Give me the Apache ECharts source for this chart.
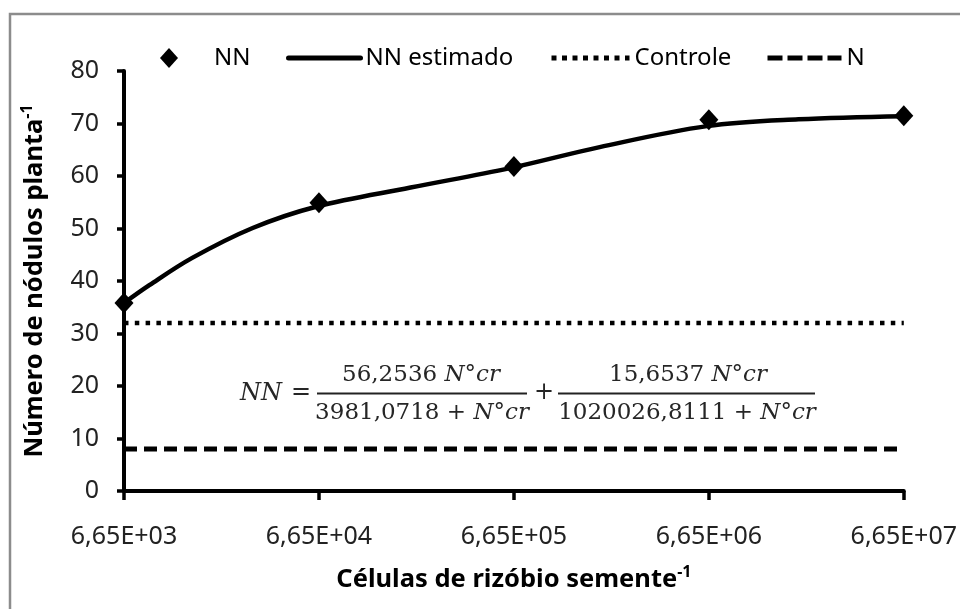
<!DOCTYPE html>
<html>
<head>
<meta charset="utf-8">
<script src="https://cdn.jsdelivr.net/npm/echarts@6/dist/echarts.min.js"></script>
<style>
html,body{margin:0;padding:0;background:#fff;}
#chart{width:960px;height:609px;}
</style>
</head>
<body>
<div id="chart"></div>
<script>
// ---- data ----
const xLabels = ['6,65E+03','6,65E+04','6,65E+05','6,65E+06','6,65E+07'];
const nnX = [0, 1, 2, 3, 4];
const nnY = [35.8, 54.9, 61.8, 70.7, 71.5];
const curveX = [0, 0.13, 0.35, 0.66, 0.99, 1.47, 1.98, 2.44, 2.99, 3.46, 4.0];
const curveY = [35.8, 39.2, 44.4, 50.1, 54.2, 57.8, 61.5, 65.5, 69.5, 70.8, 71.4];
const controleX = [0, 4];
const controleY = [32, 32];
const nX = [0, 4];
const nY = [8, 8];
const yTicks = {min: 0, max: 80, interval: 10};

const zip = (a, b) => a.map((v, i) => [v, b[i]]);

const chart = echarts.init(document.getElementById('chart'), null, {renderer: 'canvas'});
const FONT = 'Noto Sans';
const MATH = 'DejaVu Serif';
const hideSym = {color: 'rgba(0,0,0,0)', borderWidth: 0, opacity: 0};
const mathRich = {
  n: {fontFamily: MATH, fontSize: 23, fill: '#262626'},
  i: {fontFamily: MATH, fontStyle: 'italic', fontSize: 23, fill: '#262626'}
};

const option = {
  backgroundColor: '#fff',
  animation: false,
  grid: {left: 124, right: 55, top: 71, bottom: 118, containLabel: false},
  legend: [
    {data: ['NN'], left: 160, top: 46, padding: 0, itemWidth: 18, itemHeight: 20,
     itemStyle: {color: '#000', opacity: 1},
     textStyle: {fontFamily: FONT, fontSize: 24, color: '#000', padding: [0, 0, 0, 31]}},
    {data: ['NN estimado'], left: 286, top: 46, padding: 0, itemWidth: 72, itemHeight: 19,
     itemStyle: hideSym,
     lineStyle: {color: '#000', width: 5, type: 'solid', cap: 'round', opacity: 1},
     textStyle: {fontFamily: FONT, fontSize: 24, color: '#000'}},
    {data: ['Controle'], left: 549, top: 46, padding: 0, itemWidth: 78, itemHeight: 19,
     itemStyle: hideSym,
     lineStyle: {color: '#000', width: 5, type: [5, 5.5], cap: 'butt', opacity: 1},
     textStyle: {fontFamily: FONT, fontSize: 24, color: '#000'}},
    {data: ['N'], left: 765, top: 46, padding: 0, itemWidth: 74, itemHeight: 19,
     itemStyle: hideSym,
     lineStyle: {color: '#000', width: 5, type: [15, 5], cap: 'butt', opacity: 1},
     textStyle: {fontFamily: FONT, fontSize: 24, color: '#000'}}
  ],
  xAxis: {
    type: 'value', min: 0, max: 4, interval: 1,
    axisLine: {show: true, onZero: false, lineStyle: {color: '#000', width: 4}},
    axisTick: {show: true, length: 9, lineStyle: {color: '#000', width: 3.5}},
    axisLabel: {
      margin: 33, fontFamily: FONT, fontSize: 25, color: '#222',
      formatter: v => xLabels[Math.round(v)]
    },
    splitLine: {show: false},
    name: '{t|Células de rizóbio semente}{s|-1}',
    nameLocation: 'middle', nameGap: 73,
    nameTextStyle: {
      rich: {
        t: {fontFamily: FONT, fontSize: 25.5, fontWeight: 'bold', color: '#000', lineHeight: 32},
        s: {fontFamily: FONT, fontSize: 16, fontWeight: 'bold', color: '#000', lineHeight: 16, verticalAlign: 'top'}
      }
    }
  },
  yAxis: {
    type: 'value', min: yTicks.min, max: yTicks.max, interval: yTicks.interval,
    axisLine: {show: true, lineStyle: {color: '#000', width: 4}},
    axisTick: {show: true, length: 7, lineStyle: {color: '#000', width: 3.5}},
    axisLabel: {margin: 25, fontFamily: FONT, fontSize: 25, color: '#222'},
    splitLine: {show: false},
    name: '{t|Número de nódulos planta}{s|-1}',
    nameLocation: 'middle', nameGap: 73, nameRotate: 90,
    nameTextStyle: {
      rich: {
        t: {fontFamily: FONT, fontSize: 25.5, fontWeight: 'bold', color: '#000', lineHeight: 32},
        s: {fontFamily: FONT, fontSize: 16, fontWeight: 'bold', color: '#000', lineHeight: 16, verticalAlign: 'top'}
      }
    }
  },
  series: [
    {
      name: 'N', type: 'line', data: zip(nX, nY), symbol: 'none', z: 2,
      lineStyle: {color: '#000', width: 5, type: [13, 7], cap: 'butt'},
      itemStyle: {color: '#000'}
    },
    {
      name: 'Controle', type: 'line', data: zip(controleX, controleY), symbol: 'none', z: 2,
      lineStyle: {color: '#000', width: 4.5, type: [4.5, 6.3], cap: 'butt'},
      itemStyle: {color: '#000'}
    },
    {
      name: 'NN estimado', type: 'line', data: zip(curveX, curveY), symbol: 'none', smooth: 0.35, z: 3,
      lineStyle: {color: '#000', width: 4.5},
      itemStyle: {color: '#000'}
    },
    {
      name: 'NN', type: 'scatter', data: zip(nnX, nnY), symbol: 'diamond', symbolSize: [19, 21], z: 4,
      itemStyle: {color: '#000', opacity: 1}
    }
  ],
  graphic: [
    {type: 'rect', silent: true, z: -1,
     shape: {x: 10, y: 14, width: 1000, height: 700},
     style: {fill: 'none', stroke: '#8c8c8c', lineWidth: 2.5}},
    // equation
    {type: 'text', x: 261, y: 394, silent: true,
     style: {text: 'NN', font: 'italic 24px "DejaVu Serif"', fill: '#262626', align: 'center', verticalAlign: 'middle'}},
    {type: 'text', x: 301, y: 393, silent: true,
     style: {text: '=', font: '24px "DejaVu Serif"', fill: '#262626', align: 'center', verticalAlign: 'middle'}},
    {type: 'line', silent: true, shape: {x1: 317, y1: 393.5, x2: 527, y2: 393.5}, style: {stroke: '#222', lineWidth: 1.8}},
    {type: 'text', x: 421, y: 375, silent: true,
     style: {text: '{n|56,2536 }{i|N°cr}', align: 'center', verticalAlign: 'middle', rich: mathRich}},
    {type: 'text', x: 422, y: 413, silent: true,
     style: {text: '{n|3981,0718 + }{i|N°cr}', align: 'center', verticalAlign: 'middle', rich: mathRich}},
    {type: 'text', x: 544, y: 393, silent: true,
     style: {text: '+', font: '24px "DejaVu Serif"', fill: '#262626', align: 'center', verticalAlign: 'middle'}},
    {type: 'line', silent: true, shape: {x1: 558, y1: 393.5, x2: 815, y2: 393.5}, style: {stroke: '#222', lineWidth: 1.8}},
    {type: 'text', x: 688, y: 375, silent: true,
     style: {text: '{n|15,6537 }{i|N°cr}', align: 'center', verticalAlign: 'middle', rich: mathRich}},
    {type: 'text', x: 687, y: 413, silent: true,
     style: {text: '{n|1020026,8111 + }{i|N°cr}', align: 'center', verticalAlign: 'middle', rich: mathRich}}
  ]
};
chart.setOption(option);
</script>
</body>
</html>
